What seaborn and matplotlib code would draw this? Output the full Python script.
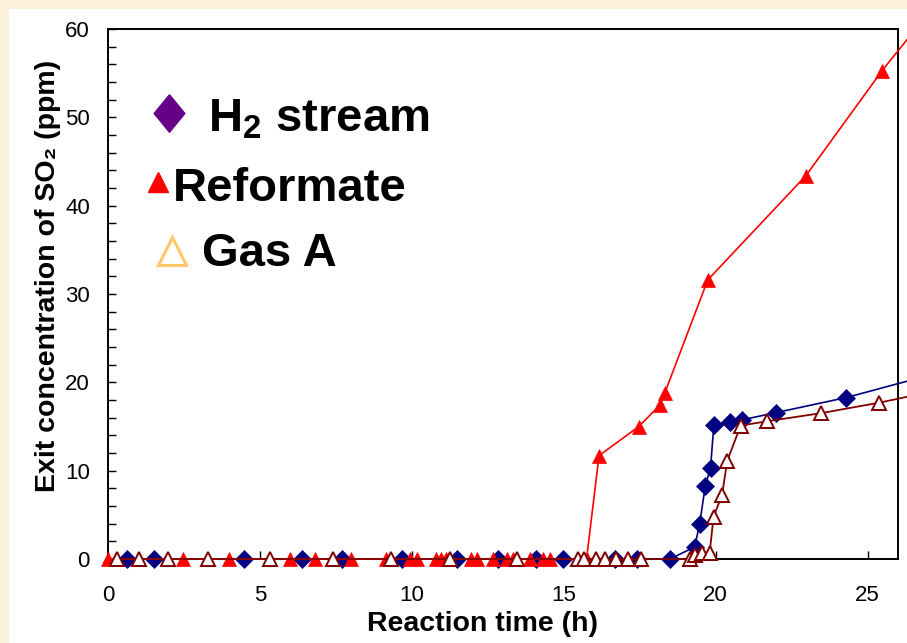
import matplotlib
matplotlib.use("Agg")
import matplotlib.pyplot as plt
from matplotlib.patches import Rectangle
from matplotlib.ticker import MultipleLocator
import seaborn as sns

# Valores (tiempo en h, SO2 en ppm)
h2_time = [0.61, 1.52, 4.48, 6.37, 7.71, 9.68, 11.5, 12.84, 14.1, 14.98, 16.7, 17.4,
           18.49, 19.31, 19.47, 19.66, 19.83, 19.94, 20.48, 20.85, 21.97, 24.30, 28.0]
h2_so2 = [0, 0, 0, 0, 0, 0, 0, 0, 0, 0, 0, 0,
          0, 1.36, 3.96, 8.3, 10.34, 15.17, 15.55, 15.74, 16.56, 18.28, 21.7]

ref_time = [0, 2.47, 3.99, 5.99, 6.81, 7.99, 9.15, 9.93, 10.17, 10.8, 10.97, 11.14,
            11.96, 12.13, 12.68, 13.12, 13.34, 13.88, 14.32, 14.54, 15.75, 16.16,
            17.47, 18.16, 18.32, 19.74, 22.97, 25.48, 27.0]
ref_so2 = [0, 0, 0, 0, 0, 0, 0, 0, 0, 0, 0, 0,
           0, 0, 0, 0, 0, 0, 0, 0, 0, 11.7,
           15.0, 17.4, 18.76, 31.6, 43.4, 55.3, 61.8]

gasa_time = [0.29, 1.02, 1.99, 3.30, 5.33, 7.39, 9.31, 11.25, 13.47, 15.46, 15.65,
             16.07, 16.35, 16.71, 17.1, 17.55, 19.14, 19.33, 19.55, 19.8, 19.93,
             20.21, 20.38, 20.82, 21.70, 23.45, 25.39, 28.0]
gasa_so2 = [0, 0, 0, 0, 0, 0, 0, 0, 0, 0, 0,
            0, 0, 0, 0, 0, 0, 0.4, 0.65, 0.65, 4.8,
            7.25, 11.1, 15.1, 15.6, 16.5, 17.7, 19.6]

x_ticks = [0, 5, 10, 15, 20, 25]
y_ticks = [0, 10, 20, 30, 40, 50, 60]

sns.set_theme(style="white")
plt.rcParams['font.family'] = ['Liberation Sans', 'DejaVu Sans']
plt.rcParams['mathtext.fontset'] = 'custom'
plt.rcParams['mathtext.rm'] = 'Liberation Sans:bold'
plt.rcParams['mathtext.bf'] = 'Liberation Sans:bold'

fig = plt.figure(figsize=(9.07, 6.43), dpi=100, facecolor='#fbf0d8')
fig.patches.append(Rectangle((9 / 907, 0), 1, 634 / 643, transform=fig.transFigure,
                             facecolor='white', edgecolor='none', zorder=-10))
ax = fig.add_axes([108 / 907, 84 / 643, 790 / 907, 530 / 643])
ax.set_facecolor('white')

sns.lineplot(x=h2_time, y=h2_so2, ax=ax, sort=False, estimator=None,
             color='#000080', linewidth=1.2, marker='D', markersize=9.5,
             markeredgecolor='#000080', markeredgewidth=0.5, zorder=3)
sns.lineplot(x=ref_time, y=ref_so2, ax=ax, sort=False, estimator=None,
             color='#ff0000', linewidth=1.2, marker='^', markersize=10.5,
             markeredgecolor='#ff0000', markeredgewidth=0.5, zorder=4)
sns.lineplot(x=gasa_time, y=gasa_so2, ax=ax, sort=False, estimator=None,
             color='#800000', linewidth=1.3, marker='^', markersize=10.5,
             markerfacecolor='white', markeredgecolor='#800000',
             markeredgewidth=1.4, zorder=5)
for ln in ax.lines:
    ln.set_clip_on(False)

ax.set_xlim(0, 26)
ax.set_ylim(0, 60)
ax.set_xticks(x_ticks)
ax.set_yticks(y_ticks)
ax.yaxis.set_minor_locator(MultipleLocator(2))
ax.tick_params(axis='x', which='major', direction='in', length=6, width=1,
               color='black', labelsize=16, pad=18.5, labelcolor='black')
ax.tick_params(axis='y', which='major', direction='in', length=6, width=1,
               color='black', labelsize=16, pad=13, labelcolor='black', left=True)
ax.tick_params(axis='y', which='minor', direction='in', length=6, width=1,
               color='black', left=True)
ax.tick_params(axis='x', bottom=True)
for s in ax.spines.values():
    s.set_color('black')
    s.set_linewidth(1.4)

ax.set_xlabel('Reaction time (h)', fontsize=20.5, fontweight='bold', color='black')
ax.set_ylabel('Exit concentration of SO₂ (ppm)', fontsize=20.5, fontweight='bold',
              color='black')
ax.xaxis.set_label_coords(0.474, -0.098)
ax.yaxis.set_label_coords(-0.06, 0.535)

# leyenda tipo texto, como en la diapositiva original
diamond = [(0, 1), (0.82, 0), (0, -1), (-0.82, 0), (0, 1)]
ax.plot([0.0772], [0.8415], transform=ax.transAxes, marker=diamond, markersize=27,
        color='#660088', linestyle='none', clip_on=False)
ax.plot([0.0639], [0.7113], transform=ax.transAxes, marker='^', markersize=15,
        color='#ff0000', linestyle='none', clip_on=False)
ax.plot([0.081], [0.581], transform=ax.transAxes, marker='^', markersize=19.5,
        markerfacecolor='white', markeredgecolor='#fcc86a', markeredgewidth=2.2,
        linestyle='none', clip_on=False)
ax.text(0.1266, 0.806, r'H$_{2}$ stream', transform=ax.transAxes, fontsize=34,
        fontweight='bold', ha='left', va='baseline', color='black')
ax.text(0.0823, 0.6755, 'Reformate', transform=ax.transAxes, fontsize=34,
        fontweight='bold', ha='left', va='baseline', color='black')
ax.text(0.119, 0.5528, 'Gas A', transform=ax.transAxes, fontsize=34,
        fontweight='bold', ha='left', va='baseline', color='black')

fig.savefig('out.png', dpi=100, facecolor=fig.get_facecolor())
